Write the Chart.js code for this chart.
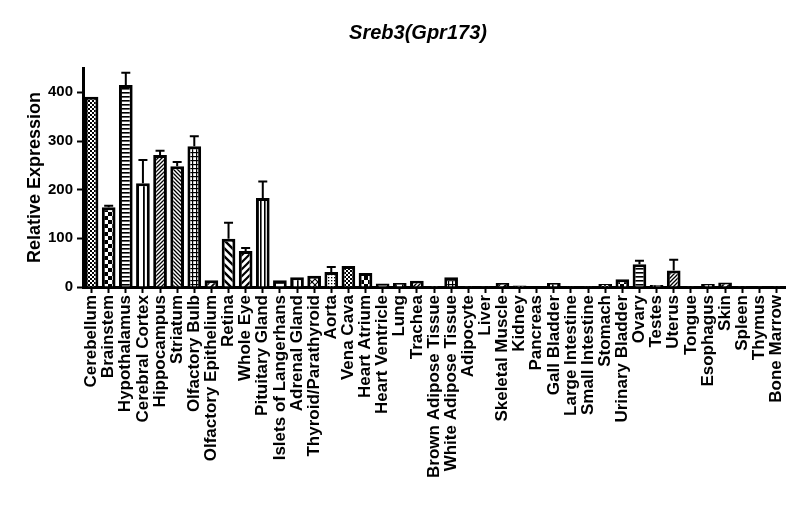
<!DOCTYPE html>
<html>
<head>
<meta charset="utf-8">
<script src="https://cdn.jsdelivr.net/npm/chart.js@4.4.0/dist/chart.umd.min.js"></script>
<style>
  html, body { margin: 0; padding: 0; background: #fff; }
  #wrap { width: 800px; height: 528px; }
</style>
</head>
<body>
<div id="wrap"><canvas id="chart" width="800" height="528"></canvas></div>
<script>
// 数据
const tissues = [
    'Cerebellum', 'Brainstem', 'Hypothalamus', 'Cerebral Cortex', 'Hippocampus',
    'Striatum', 'Olfactory Bulb', 'Olfactory Epithelium', 'Retina', 'Whole Eye',
    'Pituitary Gland', 'Islets of Langerhans', 'Adrenal Gland', 'Thyroid/Parathyroid', 'Aorta',
    'Vena Cava', 'Heart Atrium', 'Heart Ventricle', 'Lung', 'Trachea',
    'Brown Adipose Tissue', 'White Adipose Tissue', 'Adipocyte', 'Liver', 'Skeletal Muscle',
    'Kidney', 'Pancreas', 'Gall Bladder', 'Large Intestine', 'Small Intestine',
    'Stomach', 'Urinary Bladder', 'Ovary', 'Testes', 'Uterus',
    'Tongue', 'Esophagus', 'Skin', 'Spleen', 'Thymus', 'Bone Marrow'
];
const expression = [
    391, 164, 415, 213, 271,
    248, 289, 14, 99, 74,
    183, 14, 20, 23, 31,
    43, 29, 7, 8, 13,
    2, 20, 0.5, 0.5, 8,
    3, 1, 8, 0.5, 0.5,
    6, 16, 47, 4, 34,
    0.5, 6, 9, 0.5, 0.5, 0.5
];
const errors = [
    0, 3, 25, 48, 9,
    9, 21, 0, 33, 6,
    34, 0, 0, 0, 10,
    0, 0, 0, 0, 0,
    0, 0, 0, 0, 0,
    0, 0, 0, 0, 0,
    0, 0, 7, 0, 22,
    0, 0, 0, 0, 0, 0
];
const yTicks = [0, 100, 200, 300, 400];
const chartTitle = 'Sreb3(Gpr173)';
const yTitle = 'Relative Expression';

const FONT = '"Liberation Sans", Arial, sans-serif';

// 填充图案
function makeTile(size, draw) {
    const c = document.createElement('canvas');
    c.width = size;
    c.height = size;
    const g = c.getContext('2d');
    g.fillStyle = '#fff';
    g.fillRect(0, 0, size, size);
    g.fillStyle = '#000';
    g.strokeStyle = '#000';
    draw(g, size);
    return g.createPattern(c, 'repeat');
}

function diagUp(g, s, w) {
    g.lineWidth = w;
    g.beginPath();
    g.moveTo(0, s); g.lineTo(s, 0);
    g.moveTo(-1, 1); g.lineTo(1, -1);
    g.moveTo(s - 1, s + 1); g.lineTo(s + 1, s - 1);
    g.stroke();
}

function diagDown(g, s, w) {
    g.lineWidth = w;
    g.beginPath();
    g.moveTo(0, 0); g.lineTo(s, s);
    g.moveTo(-1, s - 1); g.lineTo(1, s + 1);
    g.moveTo(s - 1, -1); g.lineTo(s + 1, 1);
    g.stroke();
}

const patternMakers = [
    () => makeTile(4, (g) => { g.fillRect(0, 0, 2, 2); g.fillRect(2, 2, 2, 2); }),
    () => makeTile(8, (g) => { g.fillRect(0, 0, 4, 4); g.fillRect(4, 4, 4, 4); }),
    () => makeTile(4, (g, s) => { g.fillRect(0, 0, s, 1.6); }),
    () => makeTile(7, (g, s) => { g.fillRect(3, 0, 1.8, s); }),
    () => makeTile(4, (g, s) => diagUp(g, s, 1.3)),
    () => makeTile(4, (g, s) => diagDown(g, s, 1.3)),
    () => makeTile(4, (g, s) => { g.fillRect(0, 0, s, 1.2); g.fillRect(0, 0, 1.2, s); }),
    () => makeTile(6, (g, s) => diagUp(g, s, 1.8)),
    () => makeTile(8, (g, s) => diagDown(g, s, 2.4)),
    () => makeTile(7, (g, s) => diagUp(g, s, 2.2)),
    () => makeTile(4, (g, s) => { g.fillRect(0, 0, 1.6, s); }),
    () => makeTile(6, (g, s) => { g.fillRect(0, 0, s, 2); }),
    () => makeTile(5, (g, s) => { g.fillRect(2, 0, 1.6, s); }),
    () => makeTile(6, (g, s) => { diagUp(g, s, 1.2); diagDown(g, s, 1.2); }),
    () => makeTile(3, (g) => { g.fillRect(1, 1, 1.3, 1.3); })
];

const barPatterns = tissues.map((t, i) => patternMakers[i % patternMakers.length]());

// 误差线插件
const errorBarPlugin = {
    id: 'errorBars',
    afterDatasetsDraw(chart) {
        const ctx = chart.ctx;
        const yScale = chart.scales.y;
        const meta = chart.getDatasetMeta(0);
        ctx.save();
        ctx.strokeStyle = '#000';
        ctx.lineWidth = 2;
        meta.data.forEach((bar, i) => {
            const err = errors[i];
            if (!err) return;
            const top = yScale.getPixelForValue(expression[i] + err);
            ctx.beginPath();
            ctx.moveTo(bar.x, bar.y);
            ctx.lineTo(bar.x, top);
            ctx.moveTo(bar.x - 4.5, top);
            ctx.lineTo(bar.x + 4.5, top);
            ctx.stroke();
        });
        ctx.restore();
    }
};

// 标题插件
const titlePlugin = {
    id: 'plotTitle',
    afterDraw(chart) {
        const ctx = chart.ctx;
        ctx.save();
        ctx.fillStyle = '#000';
        ctx.font = 'italic bold 20px ' + FONT;
        ctx.textAlign = 'center';
        ctx.textBaseline = 'middle';
        ctx.fillText(chartTitle, 418, 33);
        ctx.restore();
    }
};

const ctx = document.getElementById('chart').getContext('2d');
const chart = new Chart(ctx, {
    type: 'bar',
    data: {
        labels: tissues,
        datasets: [{
            data: expression,
            backgroundColor: barPatterns,
            borderColor: '#000',
            borderWidth: 3,
            barPercentage: 0.8,
            categoryPercentage: 1.0
        }]
    },
    options: {
        responsive: false,
        animation: false,
        devicePixelRatio: 1,
        layout: { padding: { top: 68, right: 15, bottom: 0, left: 0 } },
        plugins: {
            legend: { display: false },
            tooltip: { enabled: false },
            title: { display: false }
        },
        scales: {
            x: {
                offset: true,
                afterFit(scale) { scale.height = 241; },
                border: { color: '#000', width: 3 },
                grid: {
                    display: true,
                    drawOnChartArea: false,
                    drawTicks: true,
                    tickLength: 6,
                    tickWidth: 2,
                    color: '#000',
                    offset: false
                },
                ticks: {
                    autoSkip: false,
                    minRotation: 90,
                    maxRotation: 90,
                    padding: 2,
                    color: '#000',
                    font: { family: FONT, size: 17, weight: 'bold' }
                }
            },
            y: {
                min: 0,
                max: 450,
                afterFit(scale) { scale.width = 83; },
                afterBuildTicks(scale) { scale.ticks = yTicks.map(v => ({ value: v })); },
                border: { color: '#000', width: 3 },
                grid: {
                    display: true,
                    drawOnChartArea: false,
                    drawTicks: true,
                    tickLength: 6,
                    tickWidth: 2,
                    color: '#000'
                },
                ticks: {
                    padding: 4,
                    color: '#000',
                    font: { family: FONT, size: 15, weight: 'bold' }
                },
                title: {
                    display: true,
                    text: yTitle,
                    color: '#000',
                    padding: { top: 24, bottom: 0 },
                    font: { family: FONT, size: 18, weight: 'bold' }
                }
            }
        }
    },
    plugins: [errorBarPlugin, titlePlugin]
});
</script>
</body>
</html>
